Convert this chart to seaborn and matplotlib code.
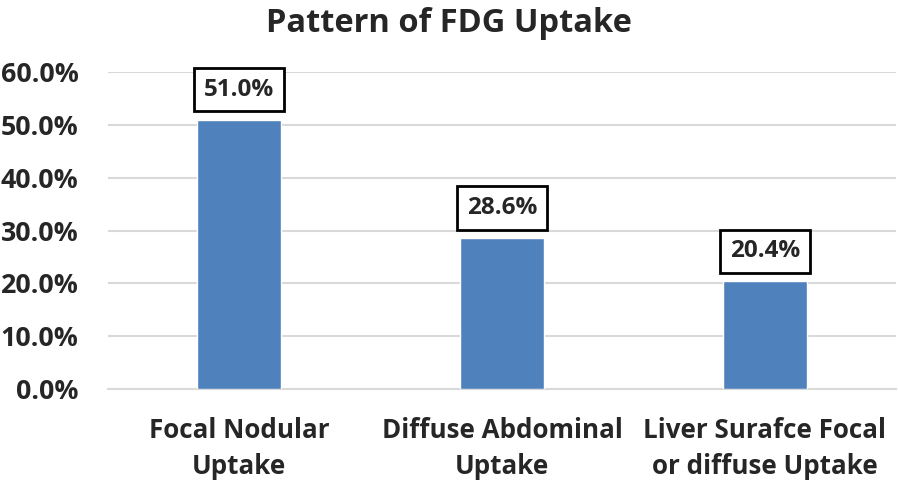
import matplotlib
matplotlib.use("Agg")
import matplotlib.pyplot as plt
import pandas as pd
import seaborn as sns
from matplotlib.ticker import PercentFormatter

categories = ["Focal Nodular\nUptake", "Diffuse Abdominal\nUptake", "Liver Surafce Focal\nor diffuse Uptake"]
values = [0.510, 0.286, 0.204]
yticks = [0.0, 0.1, 0.2, 0.3, 0.4, 0.5, 0.6]

BAR_COLOR = "#4f81bd"
GRID_COLOR = "#d9d9d9"

sns.set_style("white")
plt.rcParams["font.family"] = ["Open Sans", "DejaVu Sans"]
plt.rcParams["font.weight"] = "bold"

df = pd.DataFrame({"category": categories, "value": values})

fig = plt.figure(figsize=(8.98, 4.87), dpi=100)
ax = fig.add_axes([0.12, 0.201, 0.878, 0.651])

sns.barplot(data=df, x="category", y="value", color=BAR_COLOR, width=0.32,
            saturation=1, ax=ax, zorder=3)

ax.set_ylim(0, 0.6)
ax.set_yticks(yticks)
ax.yaxis.set_major_formatter(PercentFormatter(1.0, decimals=1))
ax.grid(axis="y", color=GRID_COLOR, linewidth=1.5, zorder=0)
ax.set_axisbelow(True)
for s in ["top", "right", "left"]:
    ax.spines[s].set_visible(False)
ax.spines["bottom"].set_color(GRID_COLOR)
ax.spines["bottom"].set_linewidth(1.5)
ax.tick_params(axis="x", length=0, labelsize=18.7, pad=20)
ax.tick_params(axis="y", length=0, labelsize=19.3, pad=21)
for lab in ax.get_xticklabels() + ax.get_yticklabels():
    lab.set_fontweight("bold")
for lab in ax.get_xticklabels():
    lab.set_linespacing(1.42)
ax.set_xlabel("")
ax.set_ylabel("")

for i, v in enumerate(values):
    ax.annotate(f"{v * 100:.1f}%", (i, v), xytext=(0, 13), textcoords="offset points",
                ha="center", va="bottom", fontsize=17.5, fontweight="bold",
                bbox=dict(boxstyle="square,pad=0.4", fc="white", ec="black", lw=2))

fig.suptitle("Pattern of FDG Uptake", fontsize=23.5, fontweight="bold", y=0.985)

fig.savefig("out.png", dpi=100)
